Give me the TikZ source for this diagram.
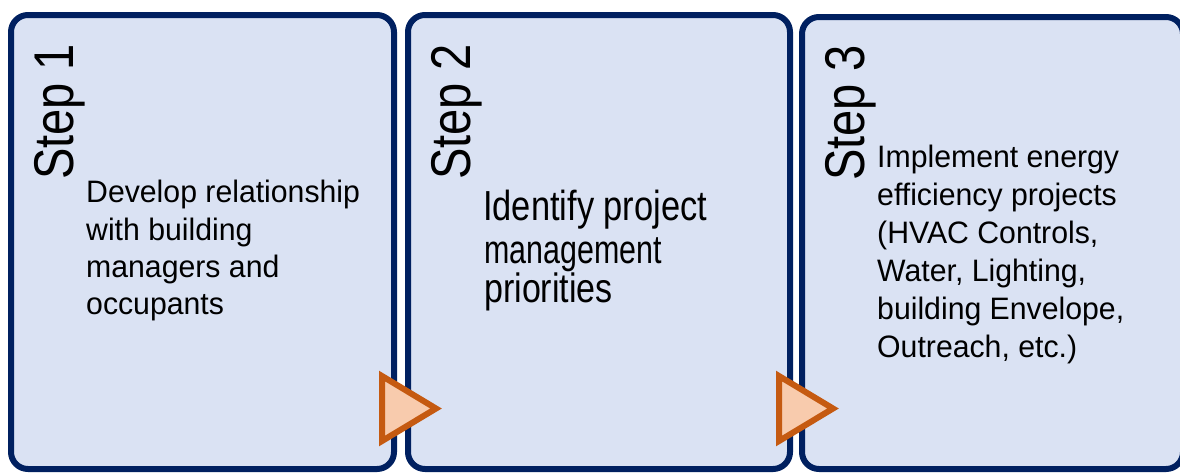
\documentclass[tikz,border=0pt]{standalone}
\usepackage{fontspec}
\setmainfont{Liberation Sans}
\newfontfamily\stepfont[FakeStretch=0.84]{Liberation Sans}
\newfontfamily\bodyfont[FakeStretch=0.975]{Liberation Sans}
\newfontfamily\midfont[FakeStretch=0.82]{Liberation Sans}
\newfontfamily\narfont[FakeStretch=0.76]{Liberation Sans}
\newfontfamily\prifont[FakeStretch=0.83]{Liberation Sans}
\definecolor{boxfill}{RGB}{218,226,243}
\definecolor{boxline}{RGB}{0,32,96}
\definecolor{trifill}{RGB}{248,203,173}
\definecolor{triline}{RGB}{197,90,17}
\begin{document}
\begin{tikzpicture}[x=1pt,y=-1pt,
  stepbox/.style={draw=boxline,fill=boxfill,line width=6pt,rounded corners=17pt},
  arrowtri/.style={draw=triline,fill=trifill,line width=6pt,line join=miter},
  steplabel/.style={rotate=90,anchor=base west,inner sep=0pt,font=\stepfont\fontsize{56}{56}\selectfont},
  bodyline/.style={anchor=base west,inner sep=0pt,font=\bodyfont\fontsize{31}{38}\selectfont},
  bigline/.style={anchor=base west,inner sep=0pt,font=\midfont\fontsize{42}{45}\selectfont},
  smallline/.style={anchor=base west,inner sep=0pt,font=\narfont\fontsize{40}{42}\selectfont},
  priline/.style={anchor=base west,inner sep=0pt,font=\prifont\fontsize{41}{45}\selectfont}]
\useasboundingbox (0,0) rectangle (1180,472);
% boxes
\draw[stepbox] (11,15) rectangle (394,469);
\draw[stepbox] (408,15) rectangle (790,469);
\draw[stepbox] (802,17) rectangle (1183,469);
% step labels
\node[steplabel] (s1) at (73,180) {Step 1};
\node[steplabel] (s2) at (470,180) {Step 2};
\node[steplabel] (s3) at (864,181) {Step 3};
% box 1 text
\node[bodyline] (a1) at (86,202.5) {Develop relationship};
\node[bodyline] (a2) at (86,240) {with building};
\node[bodyline] (a3) at (86,277.5) {managers and};
\node[bodyline] (a4) at (86,314.5) {occupants};
% box 2 text
\node[bigline] (b1) at (483,220) {Identify project};
\node[smallline] (b2) at (484,263) {management};
\node[priline] (b3) at (484,302) {priorities};
% box 3 text
\node[bodyline] (c1) at (877,167) {Implement energy};
\node[bodyline] (c2) at (877,205) {efficiency projects};
\node[bodyline] (c3) at (877,243) {(HVAC Controls,};
\node[bodyline] (c4) at (877,281) {Water, Lighting,};
\node[bodyline] (c5) at (877,319) {building Envelope,};
\node[bodyline] (c6) at (877,357) {Outreach, etc.)};
% arrows
\draw[arrowtri] (382,376) -- (382,441) -- (436,408.5) -- cycle;
\draw[arrowtri] (779,376) -- (779,441) -- (833,408.5) -- cycle;
\end{tikzpicture}
\end{document}
